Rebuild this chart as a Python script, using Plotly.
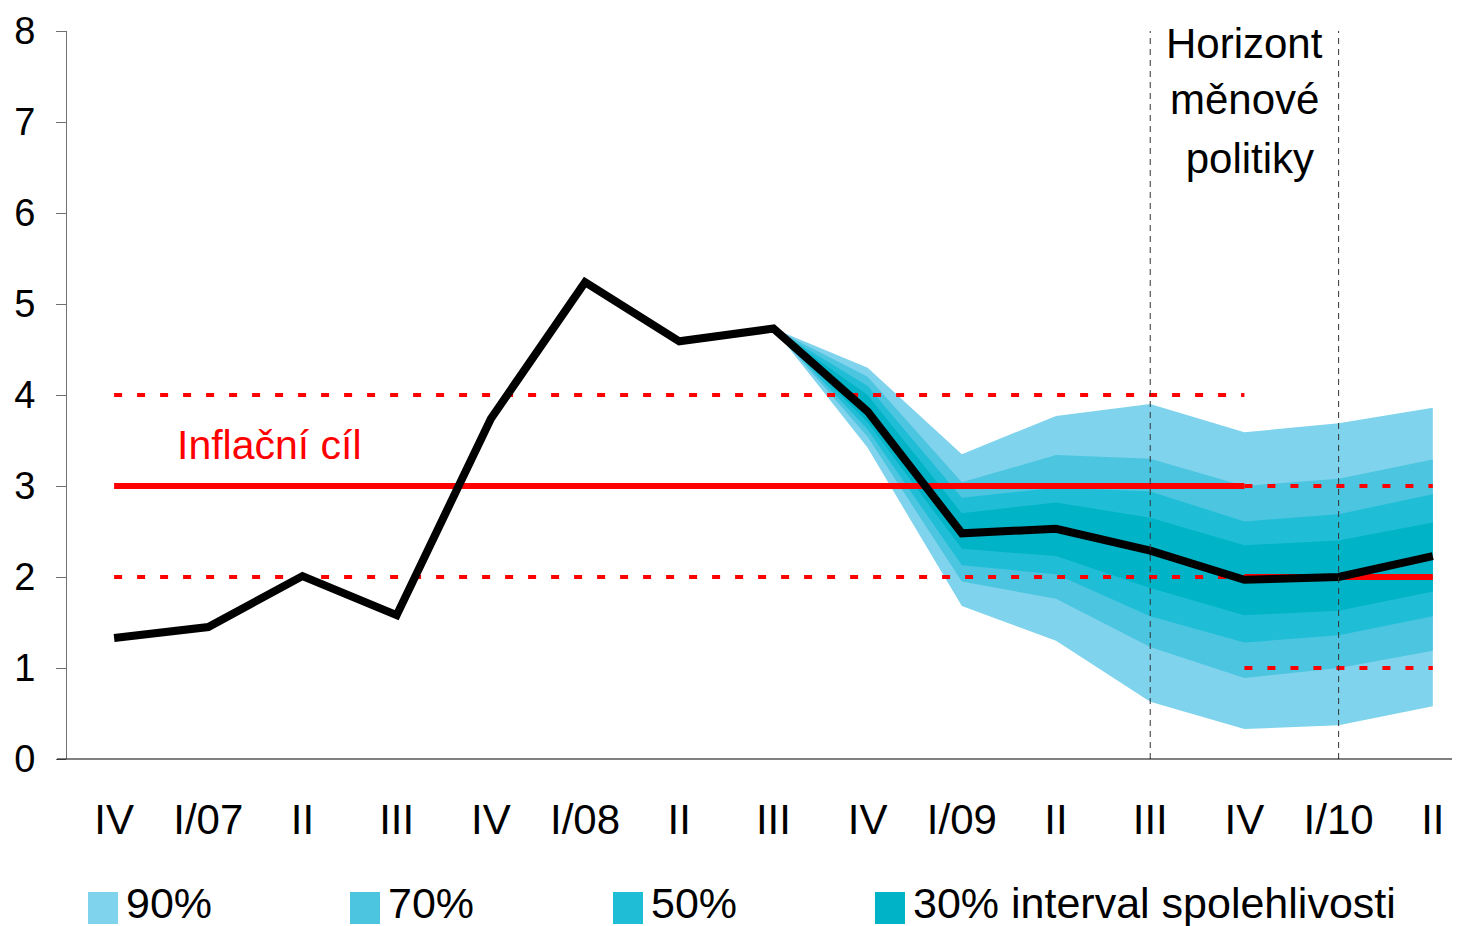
import plotly.graph_objects as go

categories = ["IV", "I/07", "II", "III", "IV", "I/08", "II", "III", "IV", "I/09", "II", "III", "IV", "I/10", "II"]
inflation = [1.33, 1.45, 2.01, 1.58, 3.74, 5.24, 4.59, 4.73, 3.82, 2.48, 2.53, 2.29, 1.97, 2.00, 2.23]

# fan chart (starts at III/08, index 7)
fan_start = 7
upper90 = [4.73, 4.30, 3.35, 3.77, 3.90, 3.59, 3.69, 3.86]
upper70 = [4.73, 4.20, 3.04, 3.34, 3.30, 3.00, 3.08, 3.29]
upper50 = [4.73, 4.10, 2.87, 2.98, 2.94, 2.61, 2.69, 2.91]
upper30 = [4.73, 4.00, 2.70, 2.82, 2.65, 2.35, 2.40, 2.60]
lower30 = [4.73, 3.70, 2.31, 2.23, 1.88, 1.58, 1.63, 1.84]
lower50 = [4.73, 3.62, 2.13, 2.03, 1.57, 1.28, 1.36, 1.57]
lower70 = [4.73, 3.54, 1.95, 1.76, 1.23, 0.89, 1.00, 1.19]
lower90 = [4.73, 3.42, 1.68, 1.30, 0.63, 0.33, 0.37, 0.58]

# inflation target and tolerance band
target_old = 3.0
target_old_band = [2.0, 4.0]
target_new = 2.0
target_new_band = [1.0, 3.0]
target_switch = 12  # IV/09

horizon_lines = [11, 13]
horizon_text = ["Horizont", "měnové", "\u00a0politiky"]
target_label = "Inflační cíl"
legend_labels = ["90%", "70%", "50%", "30% interval spolehlivosti"]
fan_colors = ["#7FD3EC", "#4CC5E0", "#1FBED6", "#00B3C6"]

n = len(categories)
xs = list(range(n))
fan_x = list(range(fan_start, n))

fig = go.Figure()

bands = [(upper90, lower90), (upper70, lower70), (upper50, lower50), (upper30, lower30)]
for (up, lo), col, lab in zip(bands, fan_colors, legend_labels):
    fig.add_trace(go.Scatter(
        x=fan_x + fan_x[::-1], y=up + lo[::-1], fill="toself", fillcolor=col,
        line=dict(width=0, color=col), mode="lines", name=lab, hoverinfo="skip",
        showlegend=False))

RED = "#FF0000"
dash = "8px,15px"
for v in target_old_band:
    fig.add_trace(go.Scatter(x=[0, target_switch], y=[v, v], mode="lines",
                             line=dict(color=RED, width=4, dash=dash), showlegend=False))
for v in target_new_band:
    fig.add_trace(go.Scatter(x=[target_switch, n - 1], y=[v, v], mode="lines",
                             line=dict(color=RED, width=4, dash=dash), showlegend=False))
fig.add_trace(go.Scatter(x=[0, target_switch], y=[target_old, target_old], mode="lines",
                         line=dict(color=RED, width=6), showlegend=False))
fig.add_trace(go.Scatter(x=[target_switch, n - 1], y=[target_new, target_new], mode="lines",
                         line=dict(color=RED, width=6), showlegend=False))
fig.add_trace(go.Scatter(x=xs, y=inflation, mode="lines",
                         line=dict(color="#000000", width=8), showlegend=False))

for hx in horizon_lines:
    fig.add_shape(type="line", x0=hx, x1=hx, y0=0, y1=8, xref="x", yref="y",
                  line=dict(color="#333333", width=1, dash="6px,5px"))

# page has an 8px body margin; figure coordinates = screen - 8
OFF = 8
W, H = 1460 - OFF, 926 - OFF
L, R, T, B = 67 - OFF, 1460 - OFF, 31 - OFF, 759 - OFF
def px(xs_):
    return (xs_ - OFF - L) / (R - L)
def py(ys_):
    return (B - (ys_ - OFF)) / (B - T)

FONT = "Liberation Sans, Arial, sans-serif"

for i, t in enumerate(horizon_text):
    fig.add_annotation(x=12, y=[7.86, 7.25, 6.60][i], xref="x", yref="y", text=t,
                       showarrow=False, font=dict(family=FONT, size=42, color="#000000"),
                       xanchor="center", yanchor="middle")

fig.add_annotation(x=1.65, y=3.45, xref="x", yref="y", text=target_label, showarrow=False,
                   font=dict(family=FONT, size=41, color=RED), xanchor="center", yanchor="middle")

box_x = [88, 350, 613, 875]
for bx, col, lab in zip(box_x, fan_colors, legend_labels):
    fig.add_shape(type="rect", xref="paper", yref="paper",
                  x0=px(bx), x1=px(bx + 30), y0=py(924), y1=py(892),
                  fillcolor=col, line=dict(width=0))
    fig.add_annotation(xref="paper", yref="paper", x=px(bx + 36), y=py(903), text=lab,
                       showarrow=False, xanchor="left", yanchor="middle",
                       font=dict(family=FONT, size=43, color="#000000"))

fig.update_layout(
    width=W, height=H,
    margin=dict(l=L, r=W - R, t=T, b=H - B, pad=0),
    paper_bgcolor="white", plot_bgcolor="white",
    showlegend=False,
    xaxis=dict(range=[-0.5, (1460 - 114) / 94.2], tickmode="array", tickvals=xs,
               ticktext=categories, showgrid=False, zeroline=False, showline=False,
               ticks="", tickfont=dict(family=FONT, size=42, color="#000000"),
               ticklabelstandoff=32),
    yaxis=dict(range=[0, 8], tickmode="linear", tick0=0, dtick=1, showgrid=False,
               zeroline=False, showline=True, linecolor="#707070", linewidth=1,
               ticks="outside", ticklen=10, tickcolor="#707070",
               tickfont=dict(family=FONT, size=38, color="#000000"),
               ticklabelstandoff=13),
)
fig.add_shape(type="line", xref="paper", yref="paper", x0=px(57), x1=1, y0=0, y1=0,
              line=dict(color="#000000", width=1))

fig.write_html("out.html")
